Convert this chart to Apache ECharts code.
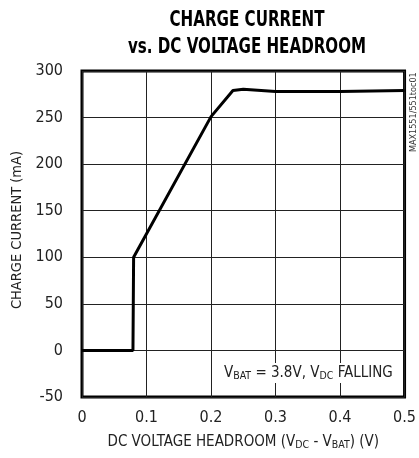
<!DOCTYPE html>
<html><head><meta charset="utf-8">
<script src="https://cdn.jsdelivr.net/npm/echarts@6/dist/echarts.min.js"></script>
<style>html,body{margin:0;padding:0;background:#fff}#c{width:419px;height:458px}</style>
</head><body><div id="c"></div>
<script>
var headroomV = [0, 0.079, 0.08, 0.2, 0.234, 0.25, 0.3, 0.4, 0.5];
var chargeCurrent = [0, 0, 100, 251, 279, 280.5, 278, 278, 279];
var xTicks = [0, 0.1, 0.2, 0.3, 0.4, 0.5];
var yTicks = [-50, 0, 50, 100, 150, 200, 250, 300];

var FONT = "'Liberation Sans Narrow','DejaVu Sans Condensed',sans-serif";
var chart = echarts.init(document.getElementById('c'), null, {renderer: 'canvas'});
var pts = headroomV.map(function (x, i) { return [x, chargeCurrent[i]]; });
chart.setOption({
  animation: false,
  backgroundColor: '#fff',
  grid: {left: 82, right: 12, top: 71, bottom: 61, show: true, borderColor: '#000', borderWidth: 3, containLabel: false},
  xAxis: {
    type: 'value', min: xTicks[0], max: xTicks[xTicks.length - 1], interval: 0.1,
    axisLine: {show: false}, axisTick: {show: false},
    splitLine: {show: true, lineStyle: {color: '#222', width: 1}},
    axisLabel: {fontFamily: FONT, fontSize: 16, color: '#222', margin: 13,
      formatter: function (v) { return v === 0 ? '0' : v.toFixed(1); }},
    name: 'DC VOLTAGE HEADROOM (V{s|DC} - V{s|BAT}) (V)',
    nameLocation: 'middle', nameGap: 36,
    nameTextStyle: {fontFamily: FONT, fontSize: 15, color: '#222', lineHeight: 18,
      rich: {s: {fontFamily: FONT, fontSize: 10.5, color: '#222', verticalAlign: 'bottom', lineHeight: 12}}}
  },
  yAxis: {
    type: 'value', min: yTicks[0], max: yTicks[yTicks.length - 1], interval: 50,
    axisLine: {show: false}, axisTick: {show: false},
    splitLine: {show: true, lineStyle: {color: '#222', width: 1}},
    axisLabel: {fontFamily: FONT, fontSize: 16, color: '#222', margin: 19},
    name: 'CHARGE CURRENT (mA)', nameLocation: 'middle', nameGap: 53,
    nameTextStyle: {fontFamily: FONT, fontSize: 14.5, color: '#222', padding: [0, 0, 0, 8]}
  },
  graphic: [
    {type: 'text', x: 247, y: 7, scaleX: 0.8, z: 10,
      style: {text: 'CHARGE CURRENT\nvs. DC VOLTAGE HEADROOM', fontFamily: FONT, fontWeight: 'bold',
        fontSize: 21, lineHeight: 27, fill: '#000', align: 'center', verticalAlign: 'top'}},
    {type: 'text', left: 222, top: 363, z: 10,
      style: {text: 'V{s|BAT} = 3.8V, V{s|DC} FALLING', fontFamily: FONT, fontSize: 15, fill: '#222',
        backgroundColor: '#fff', padding: [1, 2, 1, 2], lineHeight: 18,
        rich: {s: {fontFamily: FONT, fontSize: 10.5, fill: '#222', verticalAlign: 'bottom', lineHeight: 12}}}},
    {type: 'text', x: 409.5, y: 152, rotation: Math.PI / 2, z: 10,
      style: {text: 'MAX1551/551toc01', fontFamily: FONT, fontSize: 9, fill: '#333', verticalAlign: 'top'}}
  ],
  series: [{
    type: 'line', data: pts, showSymbol: false, symbol: 'none',
    lineStyle: {color: '#000', width: 3}, z: 5
  }]
});
</script></body></html>
